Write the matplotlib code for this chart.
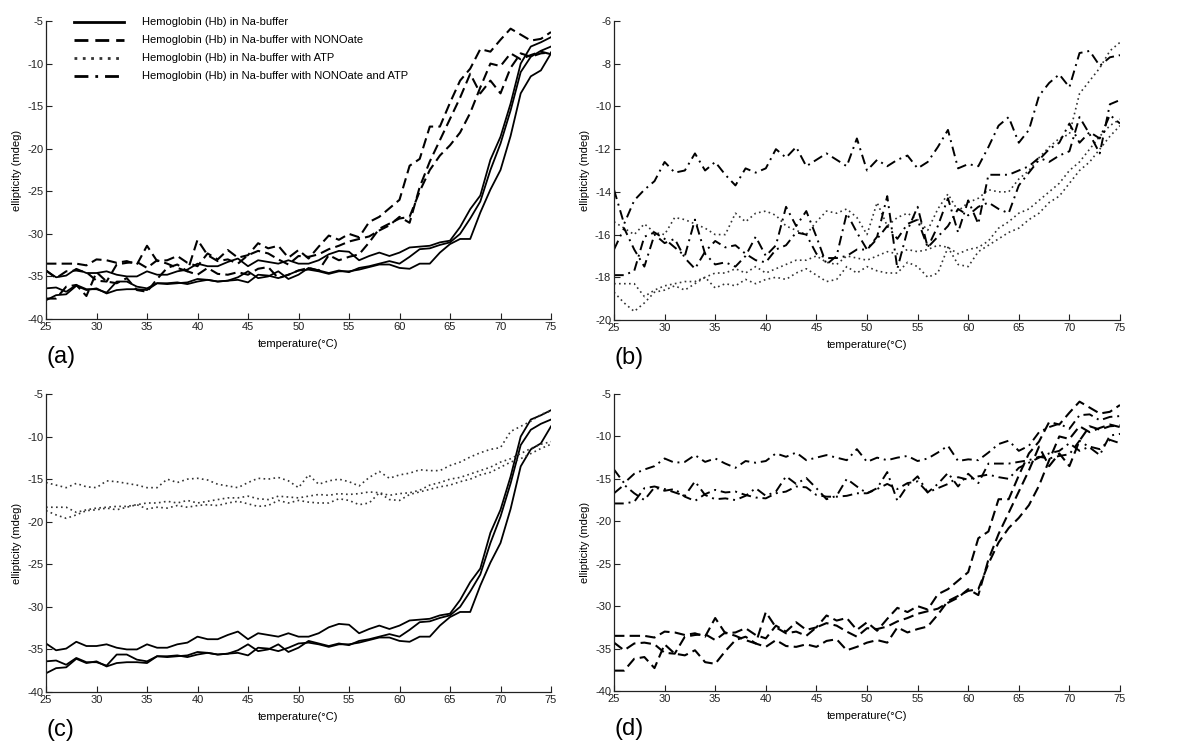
import numpy as np
import matplotlib
matplotlib.use("Agg")
from matplotlib import pyplot as plt

plt.rcParams['font.family'] = ['Liberation Sans', 'DejaVu Sans']
plt.rcParams['axes.unicode_minus'] = False

temperature = list(range(25, 76))

# Hemoglobin (Hb) in Na-buffer, three runs
hb_1 = [-34.3, -35.1, -34.9, -34.1, -34.6, -34.6, -34.4, -34.8, -35.0, -35.0,
        -34.4, -34.8, -34.8, -34.4, -34.2, -33.5, -33.8, -33.8, -33.3, -32.9,
        -33.8, -33.1, -33.3, -33.5, -33.1, -33.5, -33.5, -33.1, -32.4, -32.0,
        -32.1, -33.1, -32.6, -32.2, -32.6, -32.2, -31.6, -31.5, -31.4, -31.0,
        -30.8, -29.2, -27.1, -25.5, -21.3, -18.6, -14.7, -10.0, -8.0, -7.5,
        -6.9]
hb_2 = [-36.4, -36.3, -36.8, -36.0, -36.5, -36.5, -36.9, -35.6, -35.6, -36.2,
        -36.4, -35.8, -35.9, -35.8, -35.7, -35.3, -35.4, -35.6, -35.5, -35.1,
        -34.4, -35.2, -35.0, -34.4, -35.3, -34.8, -34.0, -34.3, -34.6, -34.3,
        -34.5, -34.0, -33.8, -33.5, -33.2, -33.5, -32.7, -31.8, -31.7, -31.3,
        -31.0, -30.0, -28.2, -26.2, -22.5, -19.4, -15.5, -11.0, -9.2, -8.5,
        -8.0]
hb_3 = [-37.8, -37.2, -37.1, -36.1, -36.6, -36.4, -37.0, -36.6, -36.5, -36.5,
        -36.6, -35.8, -35.8, -35.7, -35.9, -35.6, -35.4, -35.6, -35.5, -35.4,
        -35.7, -34.8, -34.9, -35.2, -34.8, -34.3, -34.2, -34.4, -34.7, -34.4,
        -34.4, -34.2, -33.9, -33.6, -33.6, -34.0, -34.1, -33.5, -33.5, -32.2,
        -31.2, -30.6, -30.6, -27.5, -24.8, -22.5, -18.5, -13.5, -11.5, -10.8,
        -8.8]

# Hb with NONOate
no_1 = [-33.5, -33.5, -33.5, -33.5, -33.7, -33.0, -33.1, -33.4, -33.2, -33.6,
        -31.4, -33.2, -33.1, -32.6, -33.4, -33.8, -32.3, -33.0, -31.9, -32.8,
        -32.5, -31.1, -31.7, -31.4, -32.8, -31.9, -32.9, -31.5, -30.2, -30.7,
        -30.0, -30.4, -28.6, -28.0, -27.0, -26.0, -22.0, -21.2, -17.4, -17.4,
        -14.6, -12.0, -10.6, -8.3, -8.6, -7.2, -5.9, -6.6, -7.3, -7.1,
        -6.3]
no_2 = [-34.3, -35.2, -34.4, -34.3, -34.5, -35.5, -35.6, -33.6, -33.4, -33.3,
        -34.0, -33.1, -33.5, -34.0, -34.4, -30.7, -32.5, -33.2, -33.0, -33.5,
        -32.5, -32.0, -32.3, -33.0, -33.6, -32.6, -32.7, -32.4, -31.8, -31.4,
        -30.9, -30.6, -30.3, -29.6, -29.0, -28.0, -28.7, -24.5, -21.5, -19.0,
        -16.5, -14.0, -11.2, -13.5, -12.0, -13.5, -10.5, -8.8, -9.2, -8.8,
        -8.7]
no_3 = [-37.6, -37.6, -36.2, -36.0, -37.3, -34.5, -35.6, -35.8, -35.2, -36.6,
        -36.8, -35.3, -34.0, -33.6, -34.4, -34.8, -34.0, -34.7, -34.8, -34.5,
        -34.8, -34.1, -33.9, -35.2, -34.8, -34.3, -34.0, -34.3, -32.5, -33.1,
        -32.7, -32.4, -31.0, -29.4, -28.8, -28.2, -28.0, -25.0, -22.5, -20.8,
        -19.6, -18.1, -15.8, -12.8, -10.0, -10.3, -8.8, -9.5, -9.0, -8.6,
        -8.9]

# Hb with ATP
atp_1 = [-15.4, -15.7, -16.0, -15.5, -15.9, -16.0, -15.2, -15.3, -15.5, -15.7,
         -16.0, -16.0, -15.0, -15.4, -15.0, -14.9, -15.1, -15.6, -15.8, -16.0,
         -15.4, -14.9, -15.0, -14.8, -15.2, -16.0, -14.5, -15.6, -15.2, -15.0,
         -15.3, -15.8, -14.8, -14.1, -14.9, -14.5, -14.3, -13.9, -14.0, -14.0,
         -13.4, -13.0, -12.4, -11.9, -11.5, -11.3, -9.4, -8.8, -8.2, -7.4,
         -7.0]
atp_2 = [-18.3, -18.3, -18.3, -18.9, -18.6, -18.4, -18.3, -18.2, -18.2, -18.0,
         -17.8, -17.8, -17.6, -17.8, -17.5, -17.8, -17.6, -17.4, -17.2, -17.2,
         -17.0, -17.3, -17.4, -17.0, -17.1, -17.2, -17.0, -16.8, -16.9, -16.7,
         -16.8, -16.7, -16.5, -16.6, -16.9, -16.7, -16.6, -16.3, -15.7, -15.4,
         -15.0, -14.8, -14.4, -14.0, -13.6, -13.0, -12.6, -12.0, -11.4, -10.9,
         -10.6]
atp_3 = [-18.7, -19.2, -19.6, -19.2, -18.7, -18.6, -18.4, -18.6, -18.3, -18.0,
         -18.5, -18.3, -18.4, -18.1, -18.3, -18.1, -18.0, -18.1, -17.8, -17.6,
         -17.9, -18.2, -18.1, -17.5, -17.8, -17.5, -17.7, -17.8, -17.8, -17.3,
         -17.5, -18.0, -17.8, -16.6, -17.4, -17.5, -16.8, -16.5, -16.2, -15.9,
         -15.7, -15.3, -15.0, -14.5, -14.2, -13.6, -13.0, -12.6, -12.0, -11.4,
         -10.9]

# Hb with NONOate and ATP
both_1 = [-13.9, -15.5, -14.4, -13.9, -13.5, -12.6, -13.1, -13.0, -12.2, -13.0,
          -12.6, -13.2, -13.7, -12.9, -13.1, -12.9, -12.0, -12.4, -11.9, -12.8,
          -12.5, -12.2, -12.5, -12.8, -11.5, -13.0, -12.5, -12.8, -12.5, -12.3,
          -12.9, -12.6, -11.9, -11.1, -12.9, -12.7, -12.8, -11.9, -10.9, -10.5,
          -11.7, -11.1, -9.5, -8.9, -8.5, -9.1, -7.5, -7.4, -8.1, -7.7,
          -7.6]
both_2 = [-17.9, -17.9, -17.7, -16.1, -15.9, -16.2, -16.6, -17.0, -15.3, -16.9,
          -17.4, -17.3, -17.5, -17.0, -16.1, -17.0, -16.5, -14.7, -15.6, -14.9,
          -16.1, -17.4, -17.0, -15.0, -15.9, -16.7, -16.1, -14.2, -17.6, -15.8,
          -14.7, -16.6, -15.6, -14.3, -15.9, -14.4, -15.5, -13.2, -13.2, -13.2,
          -13.0, -12.8, -12.4, -12.6, -12.3, -12.1, -10.5, -11.3, -12.2, -9.9,
          -9.7]
both_3 = [-16.7, -15.7, -16.7, -17.5, -16.0, -16.4, -16.2, -17.1, -17.6, -16.8,
          -16.3, -16.6, -16.5, -16.9, -17.2, -17.3, -16.7, -16.5, -15.9, -16.0,
          -16.9, -17.1, -17.1, -17.0, -16.7, -16.7, -16.2, -15.6, -16.2, -15.5,
          -15.3, -16.6, -16.1, -15.6, -14.8, -15.1, -14.7, -14.5, -14.8, -15.0,
          -13.7, -13.1, -12.5, -12.0, -11.7, -10.8, -11.7, -11.2, -11.5, -10.4,
          -10.8]

legend_labels = ['Hemoglobin (Hb) in Na-buffer',
                 'Hemoglobin (Hb) in Na-buffer with NONOate',
                 'Hemoglobin (Hb) in Na-buffer with ATP',
                 'Hemoglobin (Hb) in Na-buffer with NONOate and ATP']

styles = {
    'hb': dict(color='black', lw=1.3, linestyle='-'),
    'no': dict(color='black', lw=1.5, linestyle=(0, (5, 2.5))),
    'atp': dict(color='#333333', lw=1.2, linestyle=(0, (1, 2))),
    'both': dict(color='black', lw=1.4, linestyle=(0, (5, 2.5, 1, 2.5))),
}
groups = {
    'hb': [hb_1, hb_2, hb_3],
    'no': [no_1, no_2, no_3],
    'atp': [atp_1, atp_2, atp_3],
    'both': [both_1, both_2, both_3],
}

W, H = 1200, 753
fig = plt.figure(figsize=(12, 7.53), dpi=100)


def make_axes(x0, x1, y0, y1):
    return fig.add_axes([x0 / W, 1 - y1 / H, (x1 - x0) / W, (y1 - y0) / H])


panels = [
    # (pixel box, series groups, ylim, yticks, letter)
    ((46, 551, 21, 319), ['hb', 'no'], (-40, -5), range(-40, -4, 5), '(a)'),
    ((614, 1120, 21, 320), ['atp', 'both'], (-20, -6), range(-20, -5, 2), '(b)'),
    ((46, 551, 394, 692), ['hb', 'atp'], (-40, -5), range(-40, -4, 5), '(c)'),
    ((614, 1120, 394, 691), ['no', 'both'], (-40, -5), range(-40, -4, 5), '(d)'),
]

axes = []
for box, keys, ylim, yticks, letter in panels:
    ax = make_axes(*box)
    for key in keys:
        for series in groups[key]:
            ax.plot(temperature, series, **styles[key])
    ax.set_xlim(25, 75)
    ax.set_ylim(*ylim)
    ax.set_xticks(range(25, 76, 5))
    ax.set_yticks(list(yticks))
    for side in ('top', 'right'):
        ax.spines[side].set_visible(False)
    for side in ('left', 'bottom'):
        ax.spines[side].set_linewidth(0.9)
        ax.spines[side].set_color('#222222')
    ax.tick_params(direction='in', length=4, width=0.8, labelsize=8, pad=2,
                   colors='#222222')
    ax.set_xlabel('temperature(\u00b0C)', fontsize=8)
    ax.xaxis.set_label_coords(0.5, -0.066)
    ax.set_ylabel('ellipticity (mdeg)', fontsize=8)
    ax.yaxis.set_label_coords(-0.048, 0.5)
    fig.text((box[0] + 1) / W, 1 - (box[3] + 38) / H, letter,
             fontsize=17, ha='left', va='center')
    axes.append(ax)

# legend only in panel (a)
handles = [plt.Line2D([], [], **dict(styles[k], lw=2.0)) for k in ('hb', 'no', 'atp', 'both')]
axes[0].legend(handles, legend_labels, loc='upper left', bbox_to_anchor=(0.056, 1.012),
               frameon=False, fontsize=8, handlelength=4.5, handletextpad=1.6,
               labelspacing=0.72, borderpad=0, borderaxespad=0)

fig.savefig('out.png', dpi=100)
